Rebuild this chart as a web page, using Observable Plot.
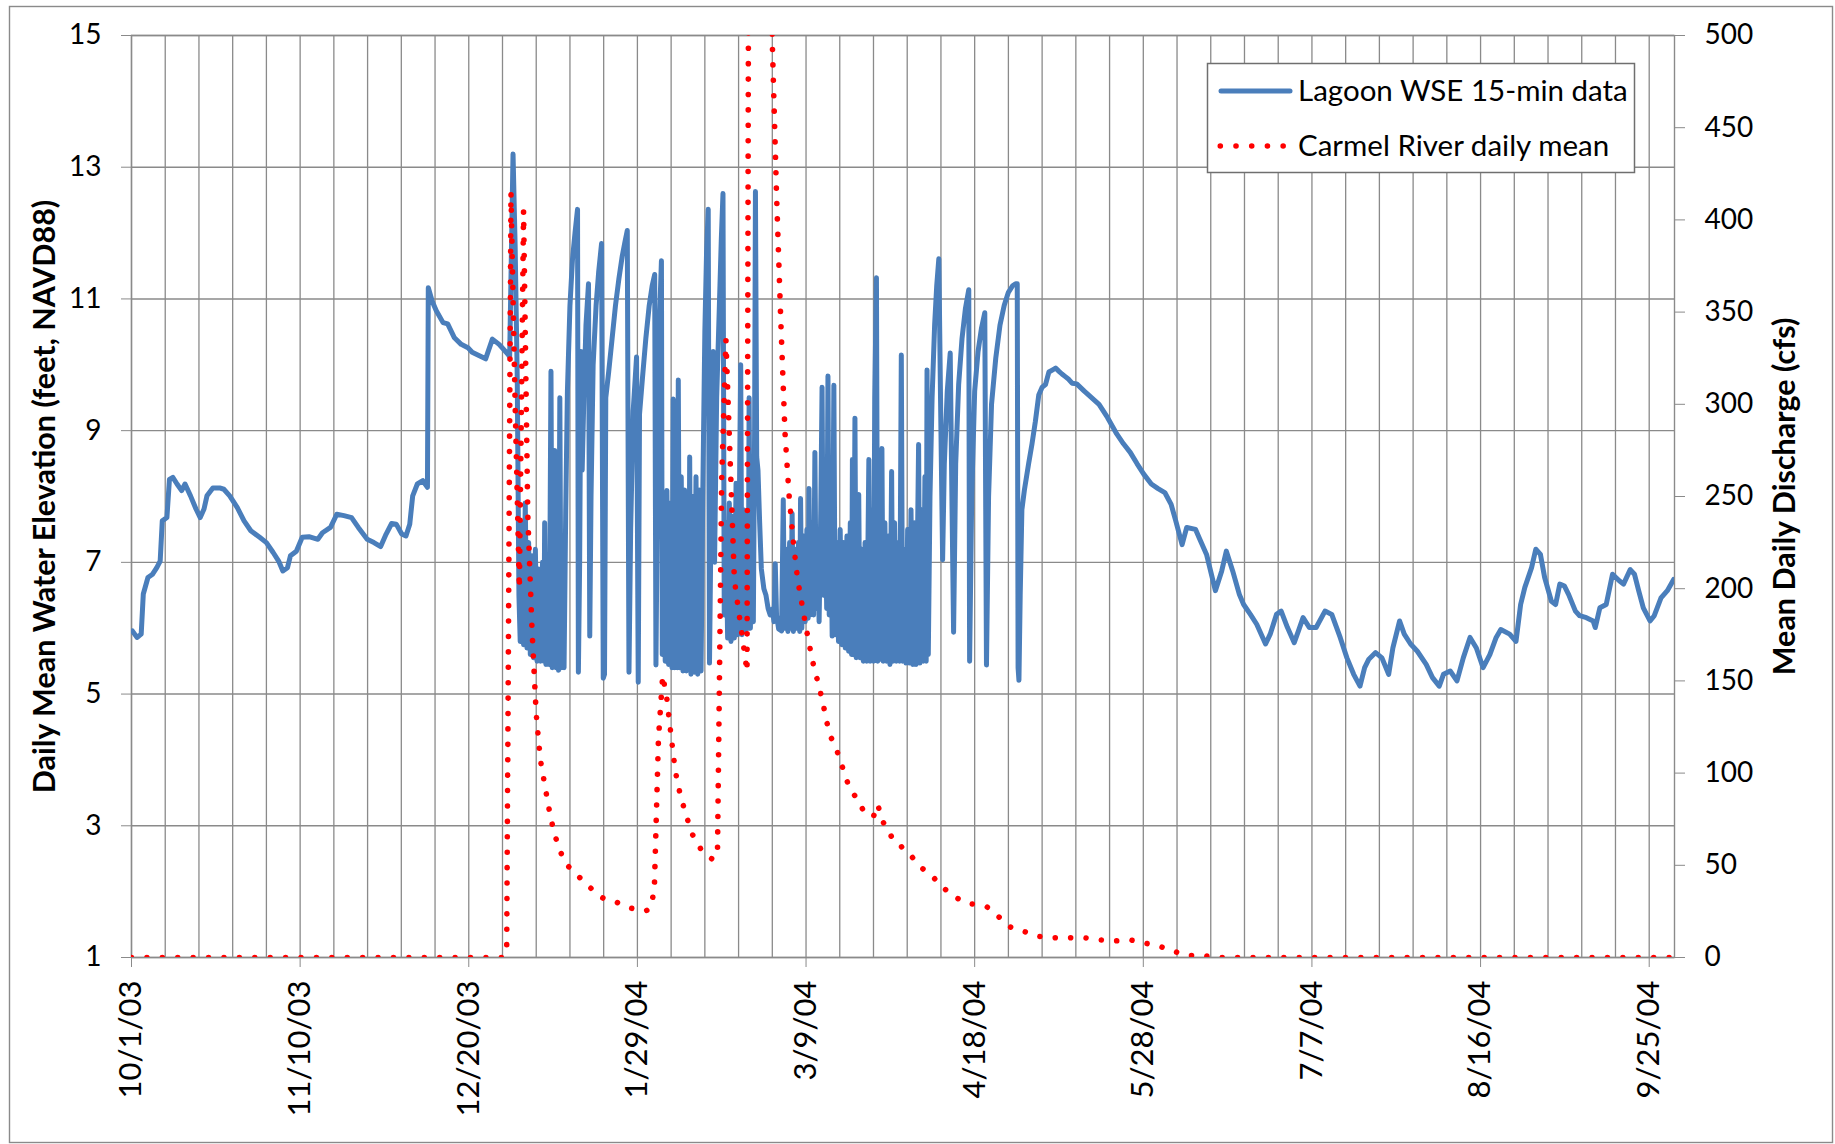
<!DOCTYPE html>
<html><head><meta charset="utf-8">
<script src="https://cdn.jsdelivr.net/npm/d3@7"></script>
<script src="https://cdn.jsdelivr.net/npm/@observablehq/plot@0.6"></script>
<style>
body{margin:0;background:#fff}
#chart{position:relative;width:1835px;height:1144px}
</style>
</head><body><div id="chart"></div>
<script>
// ---- data (day offsets from 10/1/03, value) ----
const xTickLabels = ["10/1/03","11/10/03","12/20/03","1/29/04","3/9/04","4/18/04","5/28/04","7/7/04","8/16/04","9/25/04"];
const leftTicks = [1,3,5,7,9,11,13,15];
const rightTicks = [0,50,100,150,200,250,300,350,400,450,500];
const seriesNames = ["Lagoon WSE 15-min data","Carmel River daily mean"];
const leftTitle = "Daily Mean Water Elevation (feet, NAVD88)";
const rightTitle = "Mean Daily Discharge (cfs)";

const lagoonEarly = [[0.2,5.96],[1.3,5.86],[2.3,5.91],[2.8,6.52],[3.9,6.77],[5.0,6.82],[6.0,6.92],[6.8,7.02],[7.3,7.63],[8.4,7.68],[9.0,8.26],[9.8,8.29],[10.8,8.19],[11.9,8.09],[12.7,8.19],[14.0,8.01],[15.3,7.81],[16.3,7.68],[17.2,7.81],[17.9,8.01],[19.3,8.13],[20.9,8.13],[21.9,8.11],[23.3,8.01],[25.1,7.83],[26.7,7.63],[28.3,7.48],[30.4,7.38],[32.0,7.30],[33.6,7.15],[34.9,7.02],[35.9,6.87],[37.0,6.92],[37.7,7.10],[39.1,7.17],[40.5,7.38],[42.1,7.39],[44.2,7.35],[45.3,7.45],[47.2,7.53],[48.7,7.73],[50.4,7.71],[52.2,7.68],[53.8,7.53],[55.9,7.35],[57.5,7.30],[59.1,7.24],[60.4,7.43],[61.7,7.59],[62.8,7.58],[64.1,7.43],[65.1,7.40],[66.0,7.58],[66.7,8.01],[67.8,8.19],[69.1,8.24],[70.2,8.14],[70.4,11.17],[71.3,10.97],[72.3,10.82],[73.9,10.64],[75.0,10.62],[76.6,10.41],[78.2,10.31],[79.8,10.26],[80.8,10.19],[82.4,10.14],[84.0,10.09],[85.6,10.39],[87.2,10.31],[89.3,10.16]];

const lagoonOpen = [[89.7,10.12],[90.5,13.2],[91.0,11.8],[91.5,9.8],[91.9,6.5],[92.2,5.8],[92.6,7.6],[93.0,5.75],[93.4,7.9],[93.8,5.7],[94.2,7.3],[94.6,5.6],[95.0,7.1],[95.4,5.55],[95.8,7.2],[96.2,5.5],[96.6,6.9],[97.0,5.5],[97.5,7.0],[97.8,5.5],[98.0,7.6],[98.3,5.45],[98.7,7.0],[99.1,5.45],[99.5,9.9],[99.8,5.4],[100.1,7.9],[100.4,8.7],[100.7,5.4],[101.0,7.6],[101.3,5.36],[101.6,9.5],[101.9,5.4],[102.2,7.4],[102.6,5.4],[103.0,7.8],[103.4,9.6],[104.0,10.9],[104.6,11.6],[105.2,12.0],[105.8,12.36],[106.0,5.33],[106.3,7.0],[106.6,10.2],[106.9,8.4],[107.3,9.5],[107.8,10.6],[108.4,11.23],[108.7,5.88],[109.0,8.0],[109.5,10.0],[110.2,10.9],[110.8,11.4],[111.5,11.84],[111.9,5.24],[112.2,5.3],[112.5,9.5],[113.2,9.9],[114.0,10.4],[114.8,10.9],[115.6,11.3],[116.4,11.65],[117.0,11.85],[117.6,12.04],[118.0,5.33],[118.4,7.5],[119.0,9.3],[119.8,10.12],[120.2,5.18],[120.5,9.25],[121.2,9.8],[122.0,10.4],[122.8,10.9],[123.5,11.2],[124.1,11.37],[124.4,5.44],[124.8,8.5],[125.3,10.8],[125.7,11.58],[125.9,5.6],
[126.3,7.6],[126.6,5.5],[127.0,8.09],[127.4,5.45],[127.8,7.9],[128.2,5.4],[128.5,9.48],[128.8,5.4],[129.2,8.0],[129.5,5.4],[129.7,9.77],[130.0,5.4],[130.4,8.3],[130.8,5.35],[131.2,8.1],[131.6,5.35],[132.0,7.9],[132.2,5.4],[132.4,8.6],[132.7,5.3],[133.1,8.0],[133.5,5.33],[133.9,8.3],[134.3,5.3],[134.7,8.1],[135.1,5.35],[135.5,8.0],[136.0,10.5],[136.4,11.7],[136.8,12.36],[137.1,5.47],[137.5,7.8],[138.0,10.2],[138.3,7.0],[138.8,9.5],[139.4,10.8],[139.9,11.9],[140.3,12.6],[140.6,6.2],
[141.0,7.6],[141.4,5.85],[141.8,7.9],[142.2,5.8],[142.6,7.7],[143.0,5.85],[143.4,8.2],[143.8,5.9],[144.2,8.0],[144.5,10.0],[144.8,5.9],[145.2,7.8],[145.6,5.95],[146.0,7.5],[146.3,6.0],[146.5,9.5],[146.8,6.0],[147.2,7.6],[147.5,6.1],[147.8,9.0],[148.0,12.63],[148.3,8.6],[148.6,8.4],[149.0,7.6],[149.4,6.9],[150.0,6.6],[150.5,6.5],[151.0,6.3],[151.5,6.2],[152.0,6.29],[152.4,6.1],[152.7,6.98],[153.0,6.2],[153.5,5.99],[154.2,5.96],
[154.6,7.95],[154.9,6.0],[155.3,7.2],[155.7,5.95],[156.1,7.3],[156.4,6.0],[156.7,7.74],[157.0,5.95],[157.4,7.2],[157.8,6.0],[158.2,7.3],[158.5,5.95],[158.7,7.97],[159.0,6.0],[159.4,7.4],[159.8,6.1],[160.2,7.5],[160.5,6.15],[160.7,8.12],[161.0,6.2],[161.4,7.6],[161.8,6.2],[162.1,8.67],[162.4,6.3],[162.8,7.4],[163.1,6.1],[163.5,7.8],[163.8,9.66],[164.1,6.5],[164.5,7.9],[164.9,6.3],[165.2,9.83],[165.5,6.2],[165.9,7.7],[166.2,5.88],[166.6,9.69],[166.9,5.9],[167.3,7.3],[167.7,5.8],[168.1,7.5],[168.5,5.75],[168.9,7.3],[169.3,5.7],[169.7,7.4],[170.1,5.65],[170.5,7.6],[170.8,5.6],[171.0,8.56],[171.3,5.6],[171.6,9.19],[171.9,5.55],[172.2,7.5],[172.5,8.03],[172.8,5.55],[173.2,7.2],[173.6,5.5],[174.0,7.3],[174.4,5.5],[174.9,8.56],[175.2,5.5],[175.6,7.8],[176.0,5.5],[176.3,9.5],[176.7,11.32],[177.0,5.5],
[177.3,7.5],[177.6,5.53],[178.0,8.73],[178.3,5.5],[178.7,7.6],[179.1,5.5],[179.5,7.4],[179.9,5.45],[180.3,8.38],[180.6,5.5],[181.0,7.6],[181.4,5.5],[181.8,7.3],[182.2,5.5],[182.6,10.15],[182.9,5.5],[183.3,7.2],[183.7,5.47],[184.1,7.5],[184.5,5.47],[184.9,7.8],[185.3,5.45],[185.7,7.6],[186.1,5.45],[186.7,8.79],[187.0,5.47],[187.4,7.8],[187.8,5.5],[188.2,8.3],[188.5,5.5],[188.7,9.92],[189.0,5.6],[189.4,8.0],[189.9,9.5],[190.5,10.6],[191.0,11.2],[191.5,11.61],[191.9,9.5],[192.4,7.04],[192.8,8.5],[193.5,9.6],[194.2,10.18],[194.6,8.0],[195.0,5.94],[195.5,8.5],[196.2,9.7],[197.0,10.4],[197.8,10.85],[198.6,11.14],[198.8,5.5],[199.3,8.0],[200.0,9.6],[200.8,10.2],[201.6,10.55],[202.4,10.79],[202.8,5.44],[203.3,8.0],[204.0,9.4],[205.0,10.1],[206.0,10.6],[207.0,10.9],[208.0,11.1],[209.0,11.2],[209.7,11.23],[210.1,11.23],[210.3,5.4],[210.5,5.21],[210.8,6.5],[211.2,7.8],[211.8,8.1],[212.8,8.5],[213.6,8.8],[214.4,9.14],[215.2,9.54],[216.0,9.66],[216.8,9.7],[217.6,9.89],[218.4,9.92],[219.2,9.95],[220.0,9.9],[220.7,9.86],[221.5,9.82],[222.3,9.78],[223.1,9.72]];

const lagoonLate = [[224.2,9.71],[226.0,9.6],[229.5,9.4],[231.5,9.2],[233.7,8.95],[235.3,8.8],[236.9,8.67],[238.5,8.5],[240.1,8.34],[241.9,8.19],[243.5,8.12],[245.1,8.06],[246.6,7.88],[247.7,7.63],[249.2,7.27],[250.3,7.53],[252.4,7.50],[253.4,7.35],[255.0,7.12],[257.1,6.57],[258.6,6.87],[259.7,7.17],[261.2,6.87],[262.8,6.51],[263.8,6.36],[265.4,6.21],[266.9,6.06],[269.0,5.76],[270.1,5.91],[271.6,6.21],[272.7,6.26],[274.2,6.01],[275.8,5.78],[276.8,5.96],[277.9,6.16],[279.4,6.01],[281.0,6.01],[283.1,6.26],[284.7,6.21],[286.7,5.86],[288.3,5.55],[289.9,5.3],[291.4,5.12],[292.5,5.4],[293.5,5.53],[295.1,5.63],[296.6,5.55],[298.2,5.3],[299.2,5.7],[300.8,6.11],[301.9,5.91],[303.4,5.76],[305.0,5.65],[307.1,5.45],[308.6,5.25],[310.2,5.12],[311.2,5.3],[312.8,5.35],[314.4,5.2],[315.9,5.55],[317.5,5.86],[319.0,5.7],[320.6,5.4],[322.2,5.6],[323.7,5.86],[324.8,5.98],[326.9,5.91],[328.4,5.8],[329.5,6.36],[330.5,6.62],[332.1,6.92],[333.1,7.2],[334.2,7.12],[335.2,6.77],[336.8,6.41],[337.8,6.36],[338.8,6.67],[339.9,6.64],[340.9,6.51],[342.5,6.26],[343.5,6.19],[345.1,6.16],[346.7,6.11],[347.2,6.01],[348.3,6.31],[349.8,6.36],[351.3,6.82],[352.9,6.72],[353.9,6.67],[355.5,6.89],[356.5,6.82],[357.5,6.57],[358.6,6.31],[360.2,6.11],[361.2,6.19],[362.8,6.46],[364.3,6.57],[365.8,6.74]];

// Carmel River daily mean discharge (cfs); zero runs given by their end days
const carmel = [[0,0],[88,0],[89,3],[90,415],[91,300],[92,200],[93,405],[94,240],[95,178],[96,132],[97,107],[98,94],[99,81],[100,70],[101,62],[102,56],[103,51],[104,48.5],[105,46],[106,44],[107,42],[108,39.5],[109,37.5],[110,35.5],[111,33.5],[112,32],[113,31.3],[114,30.6],[115,30],[116,29],[117,27.8],[118,27],[119,26.5],[120,26],[121,25.5],[122,25.3],[123,26.5],[124,36],[125,119],[126,153],[127,140],[128,120],[129,101],[130,90],[131,81.5],[132,74],[133,67],[134,62.5],[135,59],[136,56],[137,54.5],[138,53],[139,58],[140,260],[141,335],[142,270],[143,205],[144,188],[145,172],[146,155],[147,1200],[148,1600],[149,1100],[150,800],[151,650],[152,496],[153,414],[154,346],[155,285],[156,250],[157,225],[158,205],[159,192],[160,179],[161,167],[162,156],[163,148],[164,138],[165,127],[166,119],[167,114],[168,108],[169,100.5],[170,94],[171,90],[172,86],[173,82],[174,78.5],[175,77],[176,76.5],[177,83],[178,75],[179,70],[180,66.5],[181,63],[182,62],[183,59],[184,57],[185,55],[186,52],[187,49.5],[188,47.5],[189,46],[190,44],[191,41.5],[192,39],[193,37],[194,35],[195,33.8],[196,32],[197,30.5],[198,29.7],[199,29.2],[200,28.8],[201,28.2],[202,27.8],[203,27.3],[204,25.5],[205,23.5],[206,21.5],[207,19.5],[208,17],[209,16],[210,15.3],[211,14.5],[212,13.9],[213,13],[214,12.3],[215,11.5],[216,11.2],[217,11],[218,10.8],[219,10.7],[220,10.7],[221,10.7],[222,10.7],[223,10.7],[224,10.8],[225,10.8],[226,10.7],[227,10.4],[228,10],[229,9.7],[230,9.5],[231,9.3],[232,9.1],[233,9],[234,9.1],[235,9.4],[236,9.6],[237,9.5],[238,9],[239,8.5],[240,8],[241,7.5],[242,7],[243,6.5],[244,6],[245,5.2],[246,4.4],[247,3.6],[248,2.8],[249,2],[250,1.3],[251,1.1],[252,1.1],[253,1.1],[254,1.1],[255,0.8],[256,0.6],[257,0.4],[258,0],[365,0]];

// ---- helpers ----
const start = Date.UTC(2003, 9, 1);
const toDate = d => new Date(start + d * 864e5);
const parseLabel = s => { const [m, d, y] = s.split("/").map(Number); return new Date(Date.UTC(2000 + y, m - 1, d)); };
const xTickDates = xTickLabels.map(parseLabel);
const labelByTime = new Map(xTickDates.map((d, i) => [+d, xTickLabels[i]]));
const gridDates = d3.range(0, 361, 8).map(toDate);
const toLeft = q => 1 + q * 14 / 500;
const lagoon = lagoonEarly.concat(lagoonOpen, lagoonLate);

const BLUE = "#4a7ebb", RED = "#ff0000", GRID = "#8a8a8a";
const FONT = "Lato, 'Open Sans', sans-serif";

const chart = Plot.plot({
  width: 1835, height: 1144,
  marginLeft: 131, marginRight: 161, marginTop: 35, marginBottom: 187,
  style: {fontFamily: FONT, background: "white", color: "black"},
  x: {type: "utc", domain: [toDate(0), toDate(366)]},
  y: {domain: [1, 15]},
  marks: [
    Plot.ruleY(leftTicks, {stroke: GRID, strokeWidth: 1.4}),
    Plot.ruleX(gridDates, {stroke: GRID, strokeWidth: 1.3}),
    Plot.frame({stroke: GRID, strokeWidth: 1.4}),
    Plot.axisY(leftTicks, {anchor: "left", tickSize: 10, tickPadding: 20, fontSize: 28, stroke: GRID, label: null,
      tickFormat: v => String(v)}),
    Plot.axisY(rightTicks.map(toLeft), {anchor: "right", tickSize: 10, tickPadding: 20, fontSize: 28, stroke: GRID, label: null,
      tickFormat: v => String(Math.round((v - 1) * 500 / 14))}),
    Plot.axisX(xTickDates, {anchor: "bottom", tickRotate: -90, tickSize: 10, tickPadding: 13, fontSize: 31, stroke: GRID, label: null,
      tickFormat: d => labelByTime.get(+d)}),
    Plot.line(lagoon, {x: d => toDate(d[0]), y: d => d[1], stroke: BLUE, strokeWidth: 5, strokeLinejoin: "round", strokeLinecap: "round", clip: true}),
    Plot.line(carmel, {x: d => toDate(d[0]), y: d => toLeft(d[1]), stroke: RED, strokeWidth: 5.6, strokeDasharray: "0.01 15.4", strokeLinecap: "round", clip: true}),
    Plot.text([leftTitle], {frameAnchor: "left", textAnchor: "middle", rotate: -90, dx: -86, fontSize: 30.5, fontWeight: "bold"}),
    Plot.text([rightTitle], {frameAnchor: "right", textAnchor: "middle", rotate: -90, dx: 111, fontSize: 30.5, fontWeight: "bold"})
  ]
});

// legend + outer border
const svg = d3.select(chart);
svg.append("rect").attr("x", 9.5).attr("y", 6.5).attr("width", 1823).attr("height", 1136)
  .attr("fill", "none").attr("stroke", GRID).attr("stroke-width", 1.4);
const lg = svg.append("g").attr("font-family", FONT).attr("font-size", 29.5).attr("text-anchor", "start").attr("fill", "black");
lg.append("rect").attr("x", 1207.5).attr("y", 63.5).attr("width", 427).attr("height", 109)
  .attr("fill", "white").attr("stroke", "#6f6f6f").attr("stroke-width", 1.5);
lg.append("line").attr("x1", 1221).attr("x2", 1290).attr("y1", 91).attr("y2", 91)
  .attr("stroke", BLUE).attr("stroke-width", 5).attr("stroke-linecap", "round");
lg.append("text").attr("x", 1298).attr("y", 101).attr("text-anchor", "start").text(seriesNames[0]);
lg.append("line").attr("x1", 1220.3).attr("x2", 1284).attr("y1", 146).attr("y2", 146)
  .attr("stroke", RED).attr("stroke-width", 5.6).attr("stroke-dasharray", "0.01 15.7").attr("stroke-linecap", "round");
lg.append("text").attr("x", 1298).attr("y", 156).attr("text-anchor", "start").text(seriesNames[1]);

document.getElementById("chart").appendChild(chart);
</script>
</body></html>
